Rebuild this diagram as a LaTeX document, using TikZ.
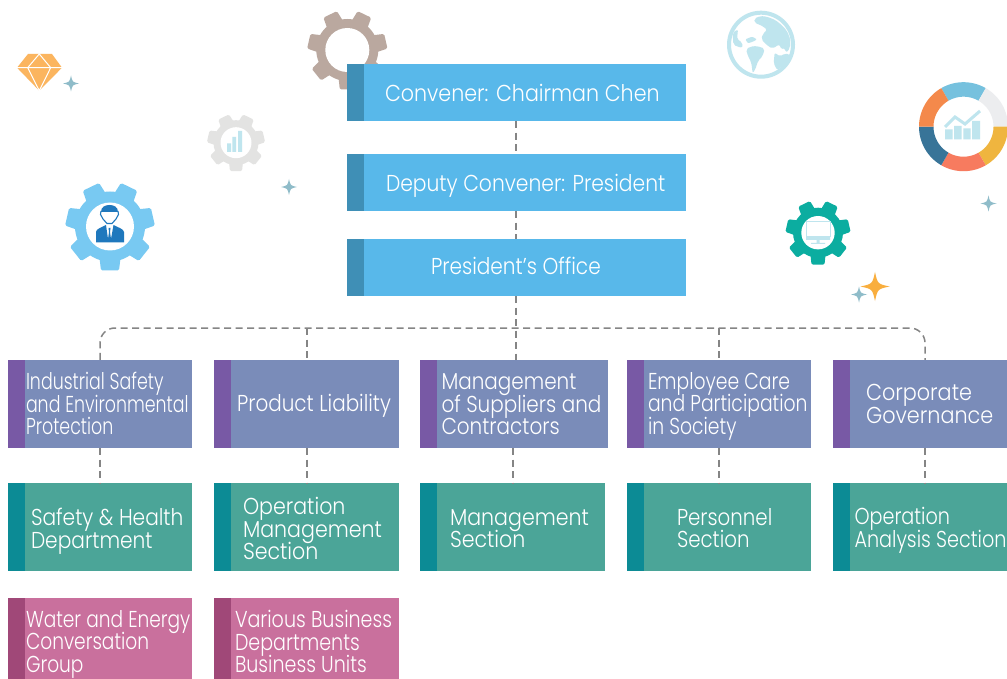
\documentclass[tikz,border=0pt]{standalone}
\usepackage{graphicx}
\usepackage{fontspec}
\setmainfont{Poppins}[UprightFont=* Light,FakeStretch=0.86]
\definecolor{cTop}{HTML}{58B8EA}\definecolor{aTop}{HTML}{3F8FB6}
\definecolor{cPur}{HTML}{7A8CB9}\definecolor{aPur}{HTML}{7859A5}
\definecolor{cGrn}{HTML}{4BA598}\definecolor{aGrn}{HTML}{0C8B95}
\definecolor{cPnk}{HTML}{C9709D}\definecolor{aPnk}{HTML}{A04878}
\definecolor{icoPale}{HTML}{BFE5EE}\definecolor{spark}{HTML}{8FBCC9}
\definecolor{spOr}{HTML}{F9AE3E}\definecolor{dia}{HTML}{FBB55F}
\definecolor{person}{HTML}{1F78BD}\definecolor{gBrown}{HTML}{BAA89F}
\definecolor{gBlue}{HTML}{78C9F2}\definecolor{gGrey}{HTML}{E3E3E2}
\definecolor{gTeal}{HTML}{0BADA0}\definecolor{linkc}{HTML}{858585}
\definecolor{dBlue}{HTML}{76C1DE}\definecolor{dGrey}{HTML}{ECEDEF}
\definecolor{dYel}{HTML}{EFB53F}\definecolor{dRed}{HTML}{F77B5F}
\definecolor{dDark}{HTML}{387498}\definecolor{dOr}{HTML}{F4894B}
\tikzset{
 box/.style n args={2}{rectangle,inner sep=0pt,fill=#1,text=white,
   font=\fontsize{23}{22.5}\selectfont,
   path picture={\fill[#2] (path picture bounding box.north west) rectangle ([xshift=17pt]path picture bounding box.south west);}},
 topbox/.style={box={cTop}{aTop},minimum width=339pt,minimum height=57pt},
 purbox/.style={box={cPur}{aPur},minimum height=88pt},
 grnbox/.style={box={cGrn}{aGrn},minimum height=88pt},
 pnkbox/.style={box={cPnk}{aPnk},minimum height=81pt},
 link/.style={draw=linkc,line width=1.5pt,dash pattern=on 7pt off 4.5pt},
}
% box width, left offset, horizontal scale, downward shift, lines
\newcommand\lbl[5]{\makebox[#1pt][l]{\hspace{#2pt}\raisebox{\dimexpr-#4pt-1pt\relax}[0pt][0pt]{\scalebox{#3}[1]{\parbox[c]{400pt}{\raggedright\lineskiplimit=-100pt\baselineskip=22.5pt\rule{0pt}{17pt}#5\rule[-5pt]{0pt}{5pt}}}}}}
\newcommand\gearicon[7]{%
 \fill[#7] (#1,#2) circle[radius=#4];
 \foreach \k in {0,...,6}{%
  \pgfmathsetmacro\ang{270+\k*360/7}
  \begin{scope}[shift={(#1,#2)},rotate=\ang]
   \fill[#7,rounded corners=1.5pt] ({#4-3},{-0.58*#6}) -- (#3,{-0.5*#6}) -- (#3,{0.5*#6}) -- ({#4-3},{0.58*#6}) -- cycle;
  \end{scope}}
 \fill[white] (#1,#2) circle[radius=#5];}
\newcommand\sparkle[4]{%
 \fill[#4] (#1,{#2-#3}) .. controls ({#1+.18*#3},{#2-.18*#3}) .. ({#1+#3},#2)
  .. controls ({#1+.18*#3},{#2+.18*#3}) .. (#1,{#2+#3})
  .. controls ({#1-.18*#3},{#2+.18*#3}) .. ({#1-#3},#2)
  .. controls ({#1-.18*#3},{#2-.18*#3}) .. (#1,{#2-#3}) -- cycle;}
\newcommand\seg[3]{%
 \fill[#3] plot[domain=#1:#2,samples=24] ({963.5+44.5*cos(\x)},{126.7-44.5*sin(\x)})
  -- plot[domain=#2:#1,samples=24] ({963.5+30*cos(\x)},{126.7-30*sin(\x)}) -- cycle;}
\begin{document}
\begin{tikzpicture}[x=1pt,y=-1pt]
\path[use as bounding box,clip] (0,0) rectangle (1007,679);
\fill[white] (0,0) rectangle (1007,679);
% gears
\gearicon{347.3}{50}{39.5}{31}{22}{15}{gBrown}
\gearicon{110}{226.5}{44}{35}{24}{18}{gBlue}
\gearicon{236}{142.7}{28.5}{22.5}{15.5}{12}{gGrey}
\gearicon{818}{232.7}{32}{25}{16.7}{13}{gTeal}
% grey gear chart
\fill[icoPale] (227,143.3) rectangle (231,152) (232.3,137) rectangle (236,152) (238,131) rectangle (242,152);
% person
\fill[person] (101,212) .. controls (101,207) and (105,205) .. (109.5,205) .. controls (114,205) and (118,207) .. (118,212) -- cycle;
\draw[person,line width=1.1pt,line join=round] (101,211) -- (100.5,214.5) -- (103,219) -- (107,223.5) -- (112,223.5) -- (116,219) -- (118.5,214.5) -- (118,211);
\fill[person] (96,242.5) -- (96,232) .. controls (96,229) and (102,227) .. (106,225) -- (108,239) -- (109,232) -- (108.5,228) -- (110.5,228) -- (110,232) -- (111,239) -- (113.5,225) .. controls (117,227) and (124,229) .. (124,232) -- (124,242.5) -- cycle;
% monitor
\draw[icoPale,line width=1pt] (806,221.7) rectangle (830,236.7);
\fill[icoPale] (806,236.7) rectangle (830,240) (816.5,240) rectangle (819.5,243) (811,243) rectangle (825,244);
% diamond
\fill[dia] (28,54) -- (52,54) -- (62,67.7) -- (39.3,90.7) -- (17,67.7) -- cycle;
\draw[white,line width=1pt] (17,67.7) -- (62,67.7) (39.3,54) -- (27.7,67.7) -- (39.3,90.7) -- (50.7,67.7) -- cycle;
% sparkles
\sparkle{71}{83.5}{8}{spark}
\sparkle{289}{187}{8}{spark}
\sparkle{988.5}{203.5}{8}{spark}
\sparkle{859}{294.5}{8}{spark}
\sparkle{875}{286.5}{14.5}{spOr}
% globe
\draw[icoPale,line width=4pt] (761,44.7) circle[radius=32];
\begin{scope}[shift={(722,6)},x=0.3333pt,y=-0.3333pt]
\fill[icoPale,rounded corners=2pt] (97,38) -- (115,30) -- (135,32) -- (160,42) -- (180,58) -- (195,75) -- (205,100) -- (204,125) -- (194,140) -- (185,125) -- (178,130) -- (172,115) -- (165,120) -- (150,128) -- (132,115) -- (118,100) -- (122,85) -- (135,72) -- (125,62) -- (110,55) -- (97,50) -- cycle;
\fill[icoPale,rounded corners=2pt] (32,80) -- (48,70) -- (45,100) -- (60,108) -- (62,125) -- (45,122) -- (34,115) -- cycle;
\fill[icoPale,rounded corners=1pt] (70,100) -- (90,92) -- (105,100) -- (95,106) -- (78,112) -- cycle;
\fill[icoPale,rounded corners=2pt] (72,130) -- (85,122) -- (105,120) -- (128,128) -- (122,150) -- (108,165) -- (100,190) -- (92,202) -- (88,170) -- (78,150) -- cycle;
\fill[icoPale,rounded corners=2pt] (158,140) -- (175,152) -- (188,142) -- (204,146) -- (190,175) -- (165,192) -- (155,172) -- cycle;
\end{scope}
% donut
\seg{60}{120}{dBlue}
\seg{0}{60}{dGrey}
\seg{-60}{0}{dYel}
\seg{-120}{-60}{dRed}
\seg{-180}{-120}{dDark}
\seg{120}{180}{dOr}
\fill[icoPale] (945,129.5) rectangle (952.7,139.3) (954,126) rectangle (961.7,139.3) (963.3,128.5) rectangle (970.7,139.3) (972,121) rectangle (980,139.3);
\draw[icoPale,line width=3pt] (945,127) -- (955,117) -- (965,124) -- (980,111);
% boxes
\node[topbox] (conv) at (516.5,92.5) {\lbl{339}{38}{1.043}{8.25}{Convener: Chairman Chen}};
\node[topbox] (dep) at (516.5,182.5) {\lbl{339}{39}{1.026}{8.25}{Deputy Convener: President}};
\node[topbox] (off) at (516.5,267.5) {\lbl{339}{84}{1.015}{6.25}{President’s Office}};
\node[purbox,minimum width=184pt] (a1) at (100,404) {\lbl{184}{18}{0.88}{7.25}{Industrial Safety\\and Environmental\\Protection}};
\node[purbox,minimum width=185pt] (a2) at (306.5,404) {\lbl{185}{23}{1.01}{7.25}{Product Liability}};
\node[purbox,minimum width=188pt] (a3) at (514,404) {\lbl{188}{21.5}{1.01}{7.25}{Management\\of Suppliers and\\Contractors}};
\node[purbox,minimum width=184pt] (a4) at (719,404) {\lbl{184}{21}{0.95}{7.25}{Employee Care\\and Participation\\in Society}};
\node[purbox,minimum width=184pt] (a5) at (925,404) {\lbl{184}{33}{1.05}{7.25}{Corporate\\Governance}};
\node[grnbox,minimum width=184pt] (b1) at (100,527) {\lbl{184}{23}{1.02}{9.25}{Safety \& Health\\Department}};
\node[grnbox,minimum width=185pt] (b2) at (306.5,527) {\lbl{185}{29}{1.04}{9.25}{Operation\\Management\\Section}};
\node[grnbox,minimum width=185pt] (b3) at (512.5,527) {\lbl{185}{30}{1.04}{8.75}{Management\\Section}};
\node[grnbox,minimum width=184pt] (b4) at (719,527) {\lbl{184}{50}{1}{8.75}{Personnel\\Section}};
\node[grnbox,minimum width=184pt] (b5) at (925,527) {\lbl{184}{21.5}{0.97}{8.75}{Operation\\Analysis Section}};
\node[pnkbox,minimum width=184pt] (c1) at (100,638.5) {\lbl{184}{18}{0.94}{10.75}{Water and Energy\\Conversation\\Group}};
\node[pnkbox,minimum width=185pt] (c2) at (306.5,638.5) {\lbl{185}{21}{0.965}{10.75}{Various Business\\Departments\\Business Units}};
% connectors
\coordinate (bus) at (516,328);
\draw[link] (conv.south -| bus) -- (dep.north -| bus);
\draw[link] (dep.south -| bus) -- (off.north -| bus);
\draw[link] (off.south -| bus) -- (a3.north -| bus);
\draw[link,rounded corners=15pt] (a1.north) -- (a1.north |- bus) -- (a5.north |- bus) -- (a5.north);
\draw[link] ([xshift=.5pt]a2.north |- bus) -- ([xshift=.5pt]a2.north);
\draw[link] (a4.north |- bus) -- (a4.north);
\draw[link] (a1.south) -- (b1.north);
\draw[link] ([xshift=.5pt]a2.south) -- ([xshift=.5pt]b2.north);
\draw[link] ([xshift=.5pt]b3.north |- a3.south) -- ([xshift=.5pt]b3.north);
\draw[link] (a4.south) -- (b4.north);
\draw[link] (a5.south) -- (b5.north);
\end{tikzpicture}
\end{document}
